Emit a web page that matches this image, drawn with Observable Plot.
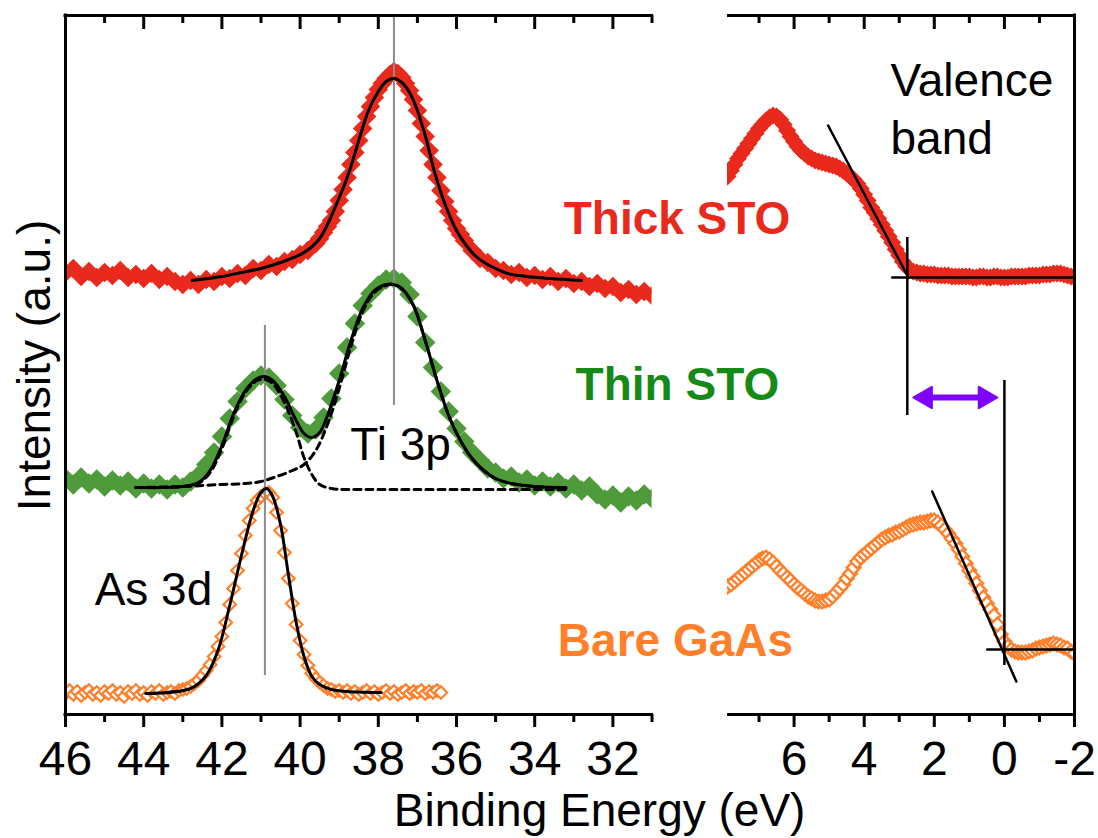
<!DOCTYPE html>
<html>
<head>
<meta charset="utf-8">
<script src="https://cdn.jsdelivr.net/npm/d3@7"></script>
<script src="https://cdn.jsdelivr.net/npm/@observablehq/plot@0.6"></script>
<style>
  html, body { margin: 0; padding: 0; background: #fff; }
  #chart { position: relative; width: 1098px; height: 838px; overflow: hidden; background: #fff; }
</style>
</head>
<body>
<div id="chart"></div>
<script>
// ---------------- Data (binding energy eV, intensity a.u.) ----------------
// Left panel: Ti 3p / As 3d core levels
const thickCore = [[46.0,442],[45.8,446],[45.6,438],[45.4,443],[45.2,437],[45.0,442],[44.8,439],[44.6,444],[44.4,437],[44.2,440],[44.0,436],[43.8,441],[43.6,435],[43.4,438],[43.2,433],[43.0,430],[42.8,434],[42.6,430],[42.4,435],[42.2,433],[42.0,438],[41.8,436],[41.6,441],[41.4,439],[41.2,446],[41.0,444],[40.8,450],[40.6,448],[40.4,453],[40.2,455],[40.0,460],[39.8,464],[39.6,471],[39.5,476],[39.4,482],[39.3,488],[39.2,494],[39.1,503],[39.0,514],[38.9,525],[38.8,537],[38.7,550],[38.6,562],[38.5,574],[38.4,586],[38.3,598],[38.2,608],[38.1,617],[38.0,625],[37.9,631],[37.8,636],[37.7,640],[37.6,643],[37.5,641],[37.4,637],[37.3,631],[37.2,624],[37.1,615],[37.0,604],[36.9,591],[36.8,578],[36.7,564],[36.6,550],[36.5,537],[36.4,524],[36.3,513],[36.2,503],[36.1,494],[36.0,486],[35.9,480],[35.8,474],[35.6,464],[35.4,456],[35.2,452],[35.0,446],[34.8,444],[34.6,440],[34.4,442],[34.2,437],[34.0,439],[33.8,435],[33.6,438],[33.4,433],[33.2,436],[33.0,431],[32.8,433],[32.6,428],[32.4,431],[32.2,426],[32.0,428],[31.8,422],[31.6,425],[31.4,420],[31.2,423],[31.0,419]];
const thickCoreFit = [[42.76,434],[42.0,438],[41.5,442],[41.0,446],[40.5,452],[39.9,462],[39.5,476],[39.03,514],[38.75,542],[38.5,574],[38.25,604],[38.0,623],[37.8,633],[37.6,636],[37.4,632],[37.2,622],[37.0,604],[36.8,579],[36.55,541],[36.3,511],[36.0,484],[35.75,469],[35.5,458],[35.25,451],[35.0,446],[34.7,441],[34.2,438],[33.6,436],[32.8,434]];

const thinCore = [[46.0,236],[45.8,230],[45.6,237],[45.4,231],[45.2,235],[45.0,228],[44.8,234],[44.6,229],[44.4,233],[44.2,226],[44.0,231],[43.8,226],[43.6,230],[43.4,225],[43.2,230],[43.0,227],[42.8,233],[42.6,239],[42.4,250],[42.2,262],[42.0,278],[41.8,296],[41.6,313],[41.4,326],[41.2,334],[41.0,339],[40.8,337],[40.6,329],[40.4,315],[40.2,299],[40.0,287],[39.8,281],[39.6,285],[39.4,297],[39.2,316],[39.0,341],[38.8,367],[38.6,391],[38.4,409],[38.2,421],[38.0,429],[37.8,435],[37.6,436],[37.4,432],[37.2,420],[37.0,398],[36.8,372],[36.6,347],[36.4,323],[36.2,303],[36.0,286],[35.8,273],[35.6,262],[35.4,254],[35.2,246],[35.0,242],[34.8,236],[34.6,238],[34.4,232],[34.2,235],[34.0,229],[33.8,233],[33.6,228],[33.4,232],[33.2,226],[33.0,230],[32.8,224],[32.6,228],[32.4,220],[32.2,215],[32.0,219],[31.8,212],[31.6,218],[31.4,214],[31.2,220],[31.0,216]];
const thinCoreFit = [[44.2,227],[43.0,228],[42.6,232],[42.3,244],[42.0,269],[41.7,301],[41.4,324],[41.1,336],[40.9,338],[40.7,334],[40.4,318],[40.1,294],[39.9,281],[39.7,277],[39.5,282],[39.3,299],[39.0,334],[38.7,374],[38.4,406],[38.1,424],[37.8,430],[37.6,430],[37.4,426],[37.1,409],[36.8,374],[36.5,334],[36.2,299],[35.9,274],[35.6,256],[35.3,244],[35.0,236],[34.6,231],[34.0,228],[33.2,227]];
const thinAsComp = [[44.2,227],[43.5,227],[43.0,228],[42.6,231],[42.3,242],[42.0,266],[41.7,298],[41.4,322],[41.1,334],[40.9,335],[40.7,331],[40.4,312],[40.1,282],[39.9,257],[39.7,240],[39.5,230],[39.2,226],[38.8,225],[38.0,225],[36.0,225],[33.2,225]];
const thinTiComp = [[44.2,227],[43.0,228],[42.0,230],[41.4,231],[41.0,233],[40.6,238],[40.2,244],[39.9,250],[39.6,264],[39.3,290],[39.0,326],[38.7,368],[38.4,403],[38.1,422],[37.8,429],[37.6,430],[37.4,426],[37.1,409],[36.8,374],[36.5,334],[36.2,299],[35.9,274],[35.6,256],[35.3,244],[35.0,236],[34.6,231],[34.0,228],[33.2,226]];

const bareCore = [[46.0,21],[45.9,24],[45.8,20],[45.7,23],[45.6,19],[45.5,22],[45.4,24],[45.3,20],[45.2,22],[45.1,19],[45.0,23],[44.9,21],[44.8,24],[44.7,20],[44.6,22],[44.5,18],[44.4,23],[44.3,21],[44.2,24],[44.1,20],[44.0,22],[43.9,19],[43.8,23],[43.7,21],[43.6,24],[43.5,20],[43.4,22],[43.3,23],[43.2,21],[43.1,24],[43.0,25],[42.9,26],[42.8,28],[42.7,31],[42.6,34],[42.5,39],[42.4,44],[42.3,50],[42.2,58],[42.1,68],[42.0,78],[41.9,92],[41.8,110],[41.7,126],[41.6,144],[41.5,161],[41.4,179],[41.3,194],[41.2,206],[41.1,214],[41.0,218],[40.9,221],[40.8,222],[40.7,217],[40.6,202],[40.5,184],[40.4,162],[40.3,136],[40.2,111],[40.1,90],[40.0,74],[39.9,60],[39.8,49],[39.7,41],[39.6,36],[39.5,32],[39.4,29],[39.3,26],[39.2,25],[39.1,23],[39.0,24],[38.9,22],[38.8,24],[38.7,21],[38.6,23],[38.5,20],[38.4,22],[38.3,24],[38.2,21],[38.1,23],[38.0,20],[37.9,22],[37.8,24],[37.7,21],[37.6,23],[37.5,20],[37.4,22],[37.3,24],[37.2,21],[37.1,23],[37.0,22],[36.9,24],[36.8,21],[36.7,23],[36.6,22],[36.5,24],[36.4,22]];
const bareCoreFit = [[43.95,21],[42.8,26],[42.4,39],[42.1,64],[41.8,109],[41.5,159],[41.2,204],[41.0,222],[40.85,226],[40.7,218],[40.5,190],[40.3,140],[40.1,92],[39.9,58],[39.7,38],[39.5,30],[39.2,25],[38.8,23],[37.93,22]];

// Reference peak positions (eV) with the span of each marker line
const peakRefs = [{e: 37.6, lo: 309, hi: 699}, {e: 40.9, lo: 39, hi: 389}];

// Right panel: valence band spectra
const thickVB = [[7.9,538],[7.8,544],[7.7,550],[7.6,556],[7.5,561],[7.4,566],[7.3,571],[7.2,576],[7.1,581],[7.0,586],[6.9,590],[6.8,594],[6.7,597],[6.6,599],[6.5,598],[6.4,595],[6.3,590],[6.2,584],[6.1,578],[6.0,573],[5.9,568],[5.8,564],[5.7,561],[5.6,558],[5.5,556],[5.4,554],[5.3,553],[5.2,552],[5.1,551],[5.0,550],[4.9,549],[4.8,548],[4.7,546],[4.6,544],[4.5,541],[4.4,538],[4.3,535],[4.2,531],[4.1,526],[4.0,520],[3.9,514],[3.8,507],[3.7,502],[3.6,496],[3.5,490],[3.4,484],[3.3,478],[3.2,472],[3.1,465],[3.0,459],[2.9,453],[2.8,448],[2.7,445],[2.6,443],[2.5,442],[2.4,441],[2.3,441],[2.2,440],[2.1,440],[2.0,440],[1.9,439],[1.8,439],[1.7,439],[1.6,439],[1.5,438],[1.4,438],[1.3,438],[1.2,438],[1.1,438],[1.0,438],[0.9,437],[0.8,437],[0.7,438],[0.6,438],[0.5,437],[0.4,437],[0.3,438],[0.2,438],[0.1,437],[0.0,437],[-0.1,437],[-0.2,438],[-0.3,438],[-0.4,438],[-0.5,438],[-0.6,438],[-0.7,439],[-0.8,439],[-0.9,439],[-1.0,439],[-1.1,440],[-1.2,440],[-1.3,440],[-1.4,441],[-1.5,441],[-1.6,441],[-1.7,440],[-1.8,439],[-1.9,438],[-2.0,437]];
const bareVB = [[7.9,128],[7.8,130],[7.7,133],[7.6,136],[7.5,139],[7.4,142],[7.3,145],[7.2,148],[7.1,151],[7.0,154],[6.9,156],[6.8,157],[6.7,155],[6.6,152],[6.5,148],[6.4,144],[6.3,141],[6.2,137],[6.1,134],[6.0,130],[5.9,127],[5.8,124],[5.7,121],[5.6,118],[5.5,116],[5.4,114],[5.3,113],[5.2,113],[5.1,114],[5.0,115],[4.9,118],[4.8,122],[4.7,126],[4.6,130],[4.5,136],[4.4,141],[4.3,147],[4.2,153],[4.1,157],[4.0,160],[3.9,163],[3.8,166],[3.7,169],[3.6,172],[3.5,175],[3.4,177],[3.3,179],[3.2,180],[3.1,182],[3.0,183],[2.9,185],[2.8,187],[2.7,189],[2.6,190],[2.5,191],[2.4,192],[2.3,192],[2.2,193],[2.1,194],[2.0,194],[1.9,192],[1.8,189],[1.7,185],[1.6,181],[1.5,176],[1.4,171],[1.3,165],[1.2,158],[1.1,151],[1.0,144],[0.9,138],[0.8,131],[0.7,124],[0.6,117],[0.5,111],[0.4,105],[0.3,99],[0.2,90],[0.1,80],[0.0,73],[-0.1,68],[-0.2,65],[-0.3,63],[-0.4,62],[-0.5,62],[-0.6,62],[-0.7,63],[-0.8,64],[-0.9,66],[-1.0,67],[-1.1,68],[-1.2,69],[-1.3,70],[-1.4,71],[-1.5,70],[-1.6,69],[-1.7,67],[-1.8,66],[-1.9,63],[-2.0,61]];

// Valence band edge construction lines
const thickEdgeTangent = [[5.03,589],[2.74,437]];
const thickEdgeBase = [[3.2,437],[-2.0,437]];
const thickEdgeMark = [{e: 2.77, lo: 299, hi: 477}];
const bareEdgeTangent = [[2.06,223],[-0.34,33]];
const bareEdgeBase = [[0.49,65],[-2.0,65]];
const bareEdgeMark = [{e: 0.0, lo: 49, hi: 334}];
const offsetArrow = [{from: 2.3, to: 0.5, v: 317}];

// Tick values
const leftMajor = [46, 44, 42, 40, 38, 36, 34, 32];
const leftMinor = [45, 43, 41, 39, 37, 35, 33, 31];
const rightMajor = [6, 4, 2, 0, -2];
const rightMinor = [7, 5, 3, 1, -1];

// Text labels
const sampleLabels = [
  {t: "Thick STO", e: 30.36, v: 495, c: "#e8291c"},
  {t: "Thin STO",  e: 30.35, v: 329, c: "#168a16"},
  {t: "Bare GaAs", e: 30.40, v: 73,  c: "#ff7f2a"}
];
const peakLabels = [{t: "Ti 3p", e: 37.43, v: 269}, {t: "As 3d", e: 43.75, v: 124}];
const vbLabels = [{t: "Valence", e: 3.25, v: 633}, {t: "band", e: 3.25, v: 575}];

// ---------------- Styling ----------------
const RED = "#e8291c", GREEN = "#4f9b3b", ORANGE = "#ff7f2a", PURPLE = "#8000ff";
const FONT = '"Liberation Sans", Arial, Helvetica, sans-serif';

const diamond = {draw(ctx, size) { const h = Math.sqrt(size / 2);
  ctx.moveTo(0, -h); ctx.lineTo(h, 0); ctx.lineTo(0, h); ctx.lineTo(-h, 0); ctx.closePath(); }};
// arrow heads: tip at the anchor point
const headLeft = {draw(ctx, size) { const s = Math.sqrt(size);
  ctx.moveTo(0, 0); ctx.lineTo(s * 1.05, -s * 0.6); ctx.lineTo(s * 1.05, s * 0.6); ctx.closePath(); }};
const headRight = {draw(ctx, size) { const s = Math.sqrt(size);
  ctx.moveTo(0, 0); ctx.lineTo(-s * 1.05, -s * 0.6); ctx.lineTo(-s * 1.05, s * 0.6); ctx.closePath(); }};

const base = {
  width: 1098, height: 838, marginTop: 15, marginBottom: 124,
  style: {position: "absolute", left: "0px", top: "0px", background: "transparent",
          overflow: "visible", fontFamily: FONT, fontSize: "48px", color: "black"}
};
const yOpt = {domain: [0, 699], axis: null};
const axisStroke = {stroke: "black", strokeWidth: 3};

const left = Plot.plot({
  ...base, marginLeft: 65, marginRight: 446.5,
  x: {domain: [46, 31], ticks: leftMajor, tickSize: 0, tickPadding: 26, tickFormat: d => String(d), label: null},
  y: yOpt,
  marks: [
    Plot.dot(thickCore, {x: "0", y: "1", symbol: diamond, r: 7.8, fill: RED, clip: true}),
    Plot.dot(thinCore, {x: "0", y: "1", symbol: diamond, r: 8.2, fill: GREEN, clip: true}),
    Plot.dot(bareCore, {x: "0", y: "1", symbol: diamond, r: 5, fill: "white", stroke: ORANGE, strokeWidth: 2.2, clip: true}),
    Plot.ruleX(peakRefs, {x: "e", y1: "lo", y2: "hi", stroke: "#8c8c8c", strokeWidth: 2}),
    Plot.line(thinAsComp, {x: "0", y: "1", stroke: "black", strokeWidth: 3, strokeDasharray: "7,5", curve: "catmull-rom"}),
    Plot.line(thinTiComp, {x: "0", y: "1", stroke: "black", strokeWidth: 3, strokeDasharray: "7,5", curve: "catmull-rom"}),
    Plot.line(thickCoreFit, {x: "0", y: "1", stroke: "black", strokeWidth: 3, curve: "catmull-rom"}),
    Plot.line(thinCoreFit, {x: "0", y: "1", stroke: "black", strokeWidth: 3, curve: "catmull-rom"}),
    Plot.line(bareCoreFit, {x: "0", y: "1", stroke: "black", strokeWidth: 3, curve: "catmull-rom"}),
    // frame lines and ticks
    Plot.ruleX([46], {y1: 0, y2: 699, ...axisStroke, strokeLinecap: "square"}),
    Plot.ruleY([0, 699], {x1: 46, x2: 31, ...axisStroke, strokeLinecap: "square"}),
    Plot.ruleX(leftMajor, {y1: 0, y2: -13, ...axisStroke}),
    Plot.ruleX(leftMinor, {y1: 0, y2: -8, ...axisStroke}),
    Plot.ruleX(leftMajor.filter(d => d !== 46), {y1: 699, y2: 685, ...axisStroke}),
    Plot.ruleX(leftMinor, {y1: 699, y2: 691, ...axisStroke}),
    // labels
    Plot.text(sampleLabels, {x: "e", y: "v", text: "t", fill: "c", fontSize: 46, fontWeight: "bold", fontFamily: FONT, textAnchor: "middle"}),
    Plot.text(peakLabels, {x: "e", y: "v", text: "t", fill: "black", fontSize: 46, fontFamily: FONT, textAnchor: "middle"}),
    Plot.text(["Binding Energy (eV)"], {x: 32.34, y: -97, text: d => d, fill: "black", fontSize: 46, fontFamily: FONT, textAnchor: "middle"}),
    Plot.text(["Intensity (a.u.)"], {x: 46.77, y: 349, text: d => d, fill: "black", fontSize: 46, fontFamily: FONT, textAnchor: "middle", rotate: -90})
  ]
});

const right = Plot.plot({
  ...base, marginLeft: 727, marginRight: 24,
  x: {domain: [7.9, -2], ticks: rightMajor, tickSize: 0, tickPadding: 26, tickFormat: d => String(d), label: null},
  y: yOpt,
  marks: [
    Plot.dot(thickVB, {x: "0", y: "1", symbol: diamond, r: 7.2, fill: RED, clip: true}),
    Plot.dot(bareVB, {x: "0", y: "1", symbol: diamond, r: 5.4, fill: "white", stroke: ORANGE, strokeWidth: 2.4, clip: true}),
    Plot.line(thickEdgeTangent, {x: "0", y: "1", stroke: "black", strokeWidth: 2.5}),
    Plot.line(thickEdgeBase, {x: "0", y: "1", stroke: "black", strokeWidth: 2.5}),
    Plot.ruleX(thickEdgeMark, {x: "e", y1: "lo", y2: "hi", stroke: "black", strokeWidth: 2.5}),
    Plot.line(bareEdgeTangent, {x: "0", y: "1", stroke: "black", strokeWidth: 2.5}),
    Plot.line(bareEdgeBase, {x: "0", y: "1", stroke: "black", strokeWidth: 2.5}),
    Plot.ruleX(bareEdgeMark, {x: "e", y1: "lo", y2: "hi", stroke: "black", strokeWidth: 2.5}),
    Plot.ruleY(offsetArrow, {y: "v", x1: "from", x2: "to", stroke: PURPLE, strokeWidth: 6}),
    Plot.dot(offsetArrow.map(d => ({e: 2.6, v: d.v})), {x: "e", y: "v", symbol: headLeft, r: 10, fill: PURPLE, stroke: PURPLE, strokeWidth: 2, strokeLinejoin: "round"}),
    Plot.dot(offsetArrow.map(d => ({e: 0.2, v: d.v})), {x: "e", y: "v", symbol: headRight, r: 10, fill: PURPLE, stroke: PURPLE, strokeWidth: 2, strokeLinejoin: "round"}),
    // frame lines and ticks
    Plot.ruleX([-2], {y1: 0, y2: 699, ...axisStroke, strokeLinecap: "square"}),
    Plot.ruleY([0, 699], {x1: 7.9, x2: -2, ...axisStroke}),
    Plot.ruleX(rightMajor, {y1: 0, y2: -13, ...axisStroke}),
    Plot.ruleX(rightMinor, {y1: 0, y2: -8, ...axisStroke}),
    Plot.ruleX(rightMajor.filter(d => d !== -2), {y1: 699, y2: 685, ...axisStroke}),
    Plot.ruleX(rightMinor, {y1: 699, y2: 691, ...axisStroke}),
    Plot.text(vbLabels, {x: "e", y: "v", text: "t", fill: "black", fontSize: 46, fontFamily: FONT, textAnchor: "start"})
  ]
});

const chart = document.getElementById("chart");
chart.appendChild(left);
chart.appendChild(right);
</script>
</body>
</html>
